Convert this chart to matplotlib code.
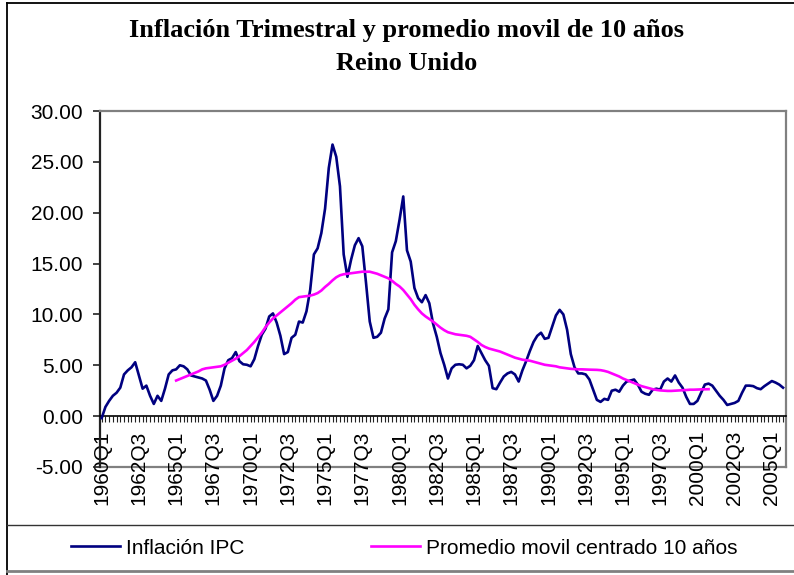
import matplotlib.pyplot as plt
from matplotlib.lines import Line2D
import numpy as np

# ---- datos ----
years = list(range(1960, 2006))
quarters = [f"{y}Q{q}" for y in years for q in range(1, 5)]

# Inflacion IPC trimestral (1960Q1 - 2005Q4)
inflacion_ipc = [
    -0.2, 0.9, 1.5, 2.0, 2.3, 2.8, 4.1, 4.5, 4.8, 5.3,
    4.0, 2.7, 3.0, 2.0, 1.2, 2.0, 1.5, 2.7, 4.1, 4.5,
    4.6, 5.0, 4.9, 4.6, 4.0, 3.9, 3.8, 3.7, 3.5, 2.6,
    1.5, 2.0, 3.0, 4.7, 5.5, 5.7, 6.3, 5.4, 5.1, 5.05,
    4.9, 5.6, 6.9, 8.0, 8.6, 9.8, 10.1, 9.2, 7.9, 6.1,
    6.3, 7.7, 8.0, 9.3, 9.2, 10.3, 12.4, 15.9, 16.5, 18.0,
    20.4, 24.4, 26.7, 25.5, 22.6, 15.9, 13.7, 15.4, 16.8, 17.5,
    16.7, 13.1, 9.3, 7.7, 7.8, 8.2, 9.6, 10.5, 16.1, 17.2,
    19.3, 21.6, 16.3, 15.2, 12.6, 11.6, 11.2, 11.9, 11.1, 9.1,
    7.8, 6.2, 5.05, 3.7, 4.7, 5.05, 5.1, 5.05, 4.7, 4.95,
    5.5, 6.9, 6.2, 5.5, 4.95, 2.75, 2.65, 3.3, 3.9, 4.2,
    4.35, 4.1, 3.4, 4.5, 5.4, 6.4, 7.3, 7.9, 8.2, 7.6,
    7.7, 8.8, 9.9, 10.45, 10.0, 8.5, 6.1, 4.8, 4.2, 4.2,
    4.1, 3.6, 2.6, 1.6, 1.4, 1.7, 1.6, 2.5, 2.6, 2.4,
    3.0, 3.4, 3.5, 3.6, 3.1, 2.4, 2.2, 2.1, 2.6, 2.7,
    2.6, 3.4, 3.7, 3.4, 4.0, 3.3, 2.8, 1.9, 1.2, 1.2,
    1.5, 2.3, 3.1, 3.2, 3.0, 2.5, 2.0, 1.6, 1.1, 1.2,
    1.3, 1.5, 2.3, 3.0, 3.0, 2.95, 2.75, 2.65, 2.95, 3.2,
    3.45, 3.3, 3.1, 2.8,
]

# Promedio movil centrado de 10 anos (1965Q1 - 2000Q4)
ma_start = 20
promedio_movil = [
    3.5, 3.65, 3.8, 3.95, 4.1, 4.25, 4.4, 4.6, 4.7, 4.75,
    4.8, 4.85, 4.9, 5.05, 5.25, 5.45, 5.65, 5.9, 6.2, 6.5,
    6.9, 7.3, 7.75, 8.2, 8.75, 9.2, 9.6, 9.9, 10.2, 10.5,
    10.8, 11.1, 11.45, 11.7, 11.75, 11.8, 11.85, 11.95, 12.1, 12.35,
    12.7, 13.0, 13.35, 13.65, 13.85, 13.95, 14.0, 14.05, 14.1, 14.15,
    14.2, 14.2, 14.2, 14.1, 14.0, 13.85, 13.7, 13.55, 13.3, 13.0,
    12.75, 12.4, 11.95, 11.5, 10.95, 10.5, 10.1, 9.8, 9.55, 9.3,
    9.0, 8.7, 8.45, 8.25, 8.15, 8.05, 8.0, 7.95, 7.9, 7.8,
    7.55, 7.3, 7.0, 6.8, 6.65, 6.55, 6.45, 6.35, 6.2, 6.05,
    5.9, 5.75, 5.65, 5.55, 5.5, 5.45, 5.35, 5.25, 5.15, 5.05,
    5.0, 4.95, 4.9, 4.8, 4.75, 4.7, 4.65, 4.62, 4.6, 4.6,
    4.58, 4.57, 4.56, 4.55, 4.52, 4.45, 4.35, 4.2, 4.05, 3.9,
    3.7, 3.55, 3.4, 3.25, 3.1, 2.95, 2.85, 2.75, 2.65, 2.58,
    2.53, 2.5, 2.48, 2.48, 2.5, 2.52, 2.55, 2.57, 2.6, 2.6,
    2.62, 2.63, 2.64, 2.65,
]

plt.rcParams['font.family'] = ['Liberation Sans', 'DejaVu Sans']
FS = 15

fig = plt.figure(figsize=(7.94, 5.75), dpi=100)
W, H = 794, 575
ax = fig.add_axes([100 / W, 108 / H, 686 / W, 356 / H])

x = np.arange(len(inflacion_ipc))
x_ma = np.arange(ma_start, ma_start + len(promedio_movil))
ax.plot(x, inflacion_ipc, color='#000080', lw=1.9, label='Inflación IPC', zorder=3)
ax.plot(x_ma, promedio_movil, color='#FF00FF', lw=1.9,
        label='Promedio movil centrado 10 años', zorder=3)

# eje x en cero, borde gris del area de trazado
ax.spines['bottom'].set_position(('data', 0))
ax.spines['bottom'].set_linewidth(1.2)
ax.spines['left'].set_linewidth(1.6)
ax.spines['left'].set_color('#222222')
for s in ['top', 'right']:
    ax.spines[s].set_color('#808080')
    ax.spines[s].set_linewidth(1.6)
ax.axhline(-5, color='#808080', lw=1.6, clip_on=False, zorder=1)

ax.set_xlim(-0.45, 183.8)
ax.set_ylim(-5, 30)
ax.set_yticks(np.arange(-5, 31, 5))
ax.set_yticklabels([f"{v:.2f}" for v in np.arange(-5, 31, 5)])
ax.tick_params(axis='y', direction='out', length=5, width=1.2, pad=7,
               color='#222222', labelsize=FS)

ax.set_xticks(x)
ax.set_xticklabels([q if i % 10 == 0 else '' for i, q in enumerate(quarters[:len(x)])])
ax.tick_params(axis='x', direction='out', length=4.5, width=0.8, pad=6,
               color='#222222', labelsize=FS, labelrotation=90)

# titulo
fig.text(407 / W, 1 - 31 / H, 'Inflación Trimestral y promedio movil de 10 años',
         ha='center', va='center', fontsize=19, fontweight='bold', family='Liberation Serif')
fig.text(407 / W, 1 - 63 / H, 'Reino Unido',
         ha='center', va='center', fontsize=19, fontweight='bold', family='Liberation Serif')

# marco del grafico y caja de leyenda
fig.add_artist(Line2D([7 / W, 7 / W], [0, 1 - 3 / H], color='black', lw=1.3))
fig.add_artist(Line2D([7 / W, 1], [1 - 3 / H, 1 - 3 / H], color='black', lw=1.3))
fig.add_artist(Line2D([7 / W, 1], [1 - 525 / H, 1 - 525 / H], color='#333333', lw=1.0))
fig.add_artist(Line2D([7 / W, 1], [1 - 571 / H, 1 - 571 / H], color='#808080', lw=2.0))

ax.legend(loc='center left', bbox_to_anchor=(71 / W, 1 - 548 / H),
          bbox_transform=fig.transFigure, ncol=2, frameon=False, fontsize=FS,
          handlelength=2.35, handletextpad=0.3, columnspacing=6.05, borderpad=0,
          borderaxespad=0)

fig.savefig('out.png', dpi=100)
